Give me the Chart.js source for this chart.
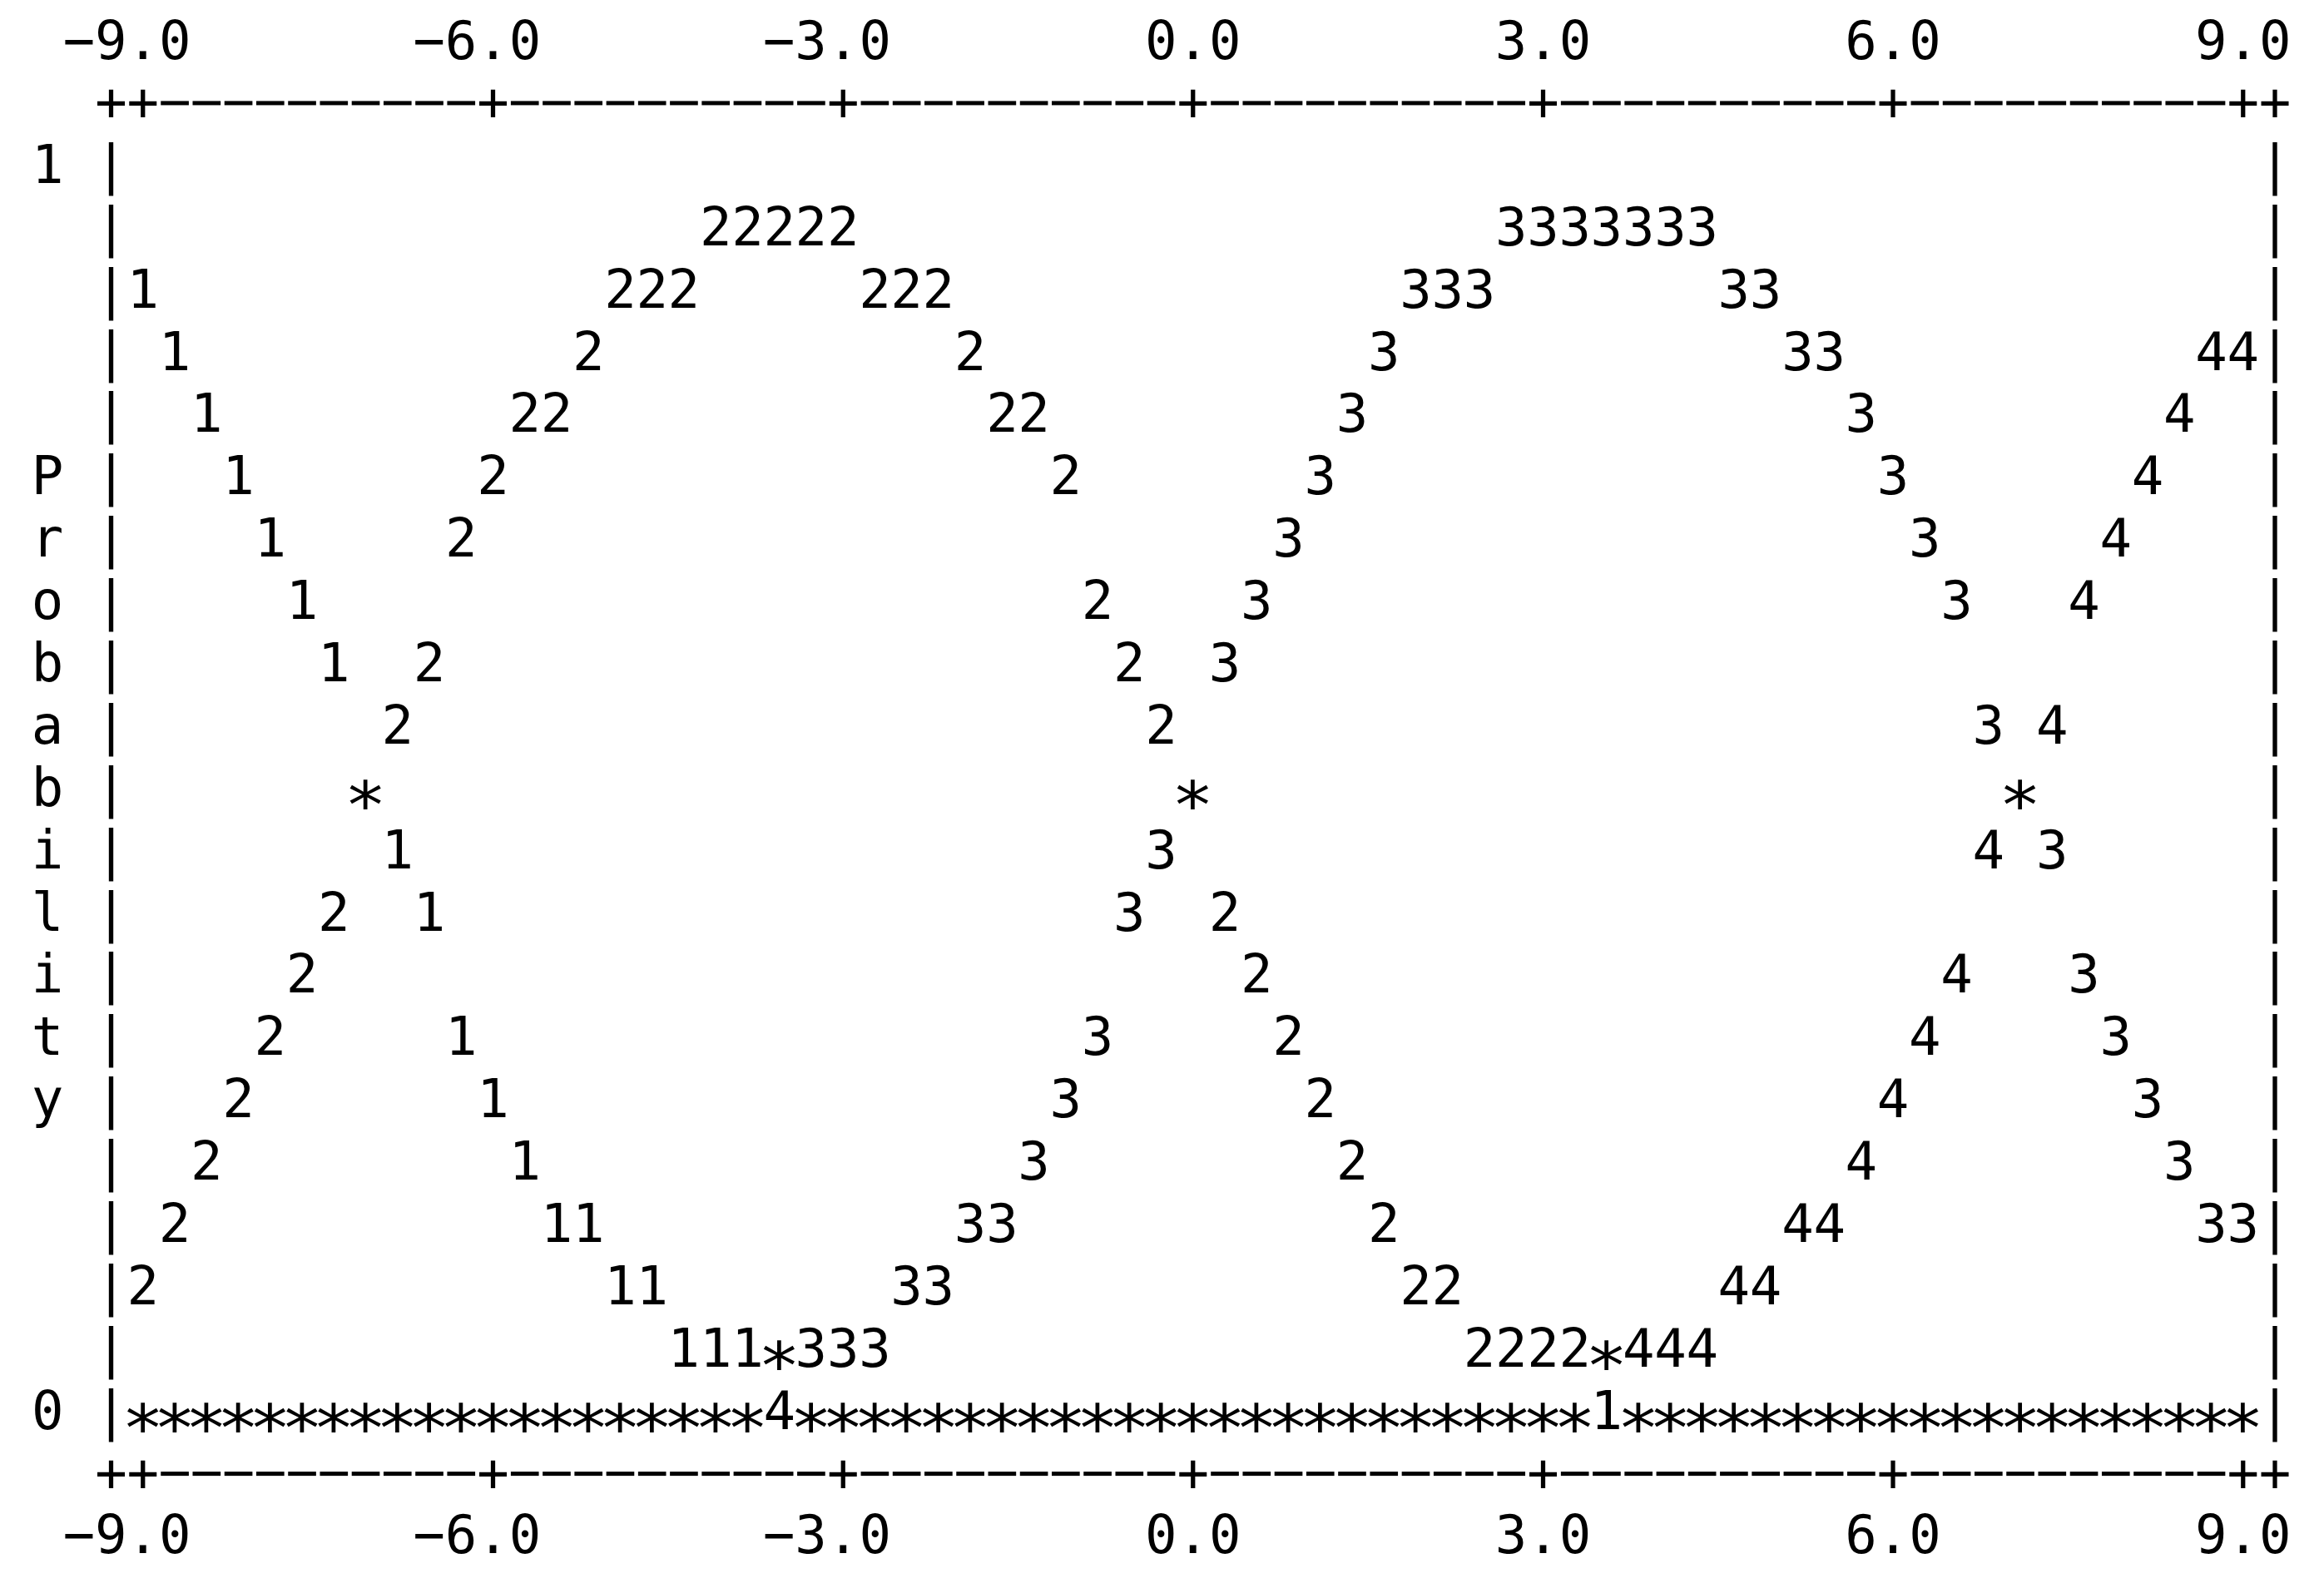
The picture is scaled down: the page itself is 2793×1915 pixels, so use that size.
<!DOCTYPE html>
<html>
<head>
<meta charset="utf-8">
<title>Probability</title>
<script src="https://cdn.jsdelivr.net/npm/chart.js@4.4.1/dist/chart.umd.min.js"></script>
<style>
  html, body { margin: 0; padding: 0; background: #fff; }
  .chart-box { width: 2793px; height: 1915px; }
</style>
</head>
<body>
<div class="chart-box"><canvas id="prob-chart"></canvas></div>
<script>
// sample points, one per text column
const xValues = [
    -9.000, -8.727, -8.455, -8.182, -7.909, -7.636, -7.364, -7.091, -6.818, -6.545, -6.273,
    -6.000, -5.727, -5.455, -5.182, -4.909, -4.636, -4.364, -4.091, -3.818, -3.545, -3.273,
    -3.000, -2.727, -2.455, -2.182, -1.909, -1.636, -1.364, -1.091, -0.818, -0.545, -0.273,
     0.000,  0.273,  0.545,  0.818,  1.091,  1.364,  1.636,  1.909,  2.182,  2.455,  2.727,
     3.000,  3.273,  3.545,  3.818,  4.091,  4.364,  4.636,  4.909,  5.182,  5.455,  5.727,
     6.000,  6.273,  6.545,  6.818,  7.091,  7.364,  7.636,  7.909,  8.182,  8.455,  8.727,
     9.000
];

const prob1 = [
    0.90, 0.85, 0.80, 0.75, 0.70, 0.65, 0.60, 0.50, 0.45, 0.40, 0.30,
    0.25, 0.20, 0.15, 0.15, 0.10, 0.10, 0.05, 0.05, 0.05, 0.05, 0,
    0, 0, 0, 0, 0, 0, 0, 0, 0, 0, 0,
    0, 0, 0, 0, 0, 0, 0, 0, 0, 0, 0,
    0, 0, 0, 0, 0, 0, 0, 0, 0, 0, 0,
    0, 0, 0, 0, 0, 0, 0, 0, 0, 0, 0,
    0
];

const prob2 = [
    0.10, 0.15, 0.20, 0.25, 0.30, 0.35, 0.40, 0.50, 0.55, 0.60, 0.70,
    0.75, 0.80, 0.80, 0.85, 0.90, 0.90, 0.90, 0.95, 0.95, 0.95, 0.95,
    0.95, 0.90, 0.90, 0.90, 0.85, 0.80, 0.80, 0.75, 0.65, 0.60, 0.55,
    0.50, 0.40, 0.35, 0.30, 0.25, 0.20, 0.15, 0.10, 0.10, 0.05, 0.05,
    0.05, 0.05, 0.05, 0, 0, 0, 0, 0, 0, 0, 0,
    0, 0, 0, 0, 0, 0, 0, 0, 0, 0, 0,
    0
];

const prob3 = [
    0, 0, 0, 0, 0, 0, 0, 0, 0, 0, 0,
    0, 0, 0, 0, 0, 0, 0, 0, 0, 0.05, 0.05,
    0.05, 0.05, 0.10, 0.10, 0.15, 0.15, 0.20, 0.25, 0.30, 0.40, 0.45,
    0.50, 0.60, 0.65, 0.70, 0.75, 0.80, 0.85, 0.90, 0.90, 0.90, 0.95,
    0.95, 0.95, 0.95, 0.95, 0.95, 0.95, 0.90, 0.90, 0.85, 0.85, 0.80,
    0.75, 0.70, 0.65, 0.55, 0.50, 0.45, 0.35, 0.30, 0.25, 0.20, 0.15,
    0.15
];

const prob4 = [
    0, 0, 0, 0, 0, 0, 0, 0, 0, 0, 0,
    0, 0, 0, 0, 0, 0, 0, 0, 0, 0, 0,
    0, 0, 0, 0, 0, 0, 0, 0, 0, 0, 0,
    0, 0, 0, 0, 0, 0, 0, 0, 0, 0, 0,
    0, 0, 0.05, 0.05, 0.05, 0.05, 0.10, 0.10, 0.15, 0.15, 0.20,
    0.25, 0.30, 0.35, 0.45, 0.50, 0.55, 0.65, 0.70, 0.75, 0.80, 0.85,
    0.85
];

const seriesMarks = ['1', '2', '3', '4'];
const xTickValues = [-9, -6, -3, 0, 3, 6, 9];
const yTickValues = [0, 1];
const yTitle = 'Probability';

const FONT_FAMILY = "'DejaVu Sans Mono', monospace";
const FONT_SIZE = 64;
const monoFont = { family: FONT_FAMILY, size: FONT_SIZE, lineHeight: 1.2 };

// one column / one row of margin round the data, like the text terminal
const xStep = (xValues[xValues.length - 1] - xValues[0]) / (xValues.length - 1);
const yStep = 0.05;

// labels are centred on whole characters, so even-length ones get a trailing space
function xTickText(value) {
    const s = Number(value).toFixed(1).replace('-', '\u2212');
    return s.length % 2 === 0 ? s + ' ' : s;
}

// the terminal's '*' is wide and sits a bit low, so stretch the glyph to fit the cell
function drawStar(ctx, cx, cy, cw) {
    const m = ctx.measureText('*');
    const w = m.actualBoundingBoxLeft + m.actualBoundingBoxRight;
    const h = m.actualBoundingBoxAscent + m.actualBoundingBoxDescent;
    const midX = (m.actualBoundingBoxRight - m.actualBoundingBoxLeft) / 2;
    const midY = (m.actualBoundingBoxDescent - m.actualBoundingBoxAscent) / 2;
    ctx.save();
    ctx.translate(cx, cy + 3);
    ctx.scale(cw * 1.0 / w, cw * 0.95 / h);
    ctx.fillText('*', -midX, -midY);
    ctx.restore();
}

// draws the frame and every point as characters, the way a dumb terminal does
const asciiPlot = {
    id: 'asciiPlot',
    afterDatasetsDraw(chart) {
        const { ctx, chartArea: { left, right, top, bottom }, scales: { x, y } } = chart;
        const cw = x.getPixelForValue(xValues[0] + xStep) - x.getPixelForValue(xValues[0]);
        const rh = y.getPixelForValue(0) - y.getPixelForValue(yStep);
        const nCols = Math.round((right - left) / cw);
        const nRows = Math.round((bottom - top) / rh);

        ctx.save();
        ctx.fillStyle = '#000';
        ctx.font = FONT_SIZE + 'px ' + FONT_FAMILY;
        ctx.textAlign = 'center';
        ctx.textBaseline = 'middle';

        // top and bottom border
        const tickCols = xTickValues.map(v => Math.round((x.getPixelForValue(v) - left) / cw));
        const plus = ctx.measureText('+');
        const plusMid = (plus.actualBoundingBoxDescent - plus.actualBoundingBoxAscent) / 2;
        [top, bottom].forEach(rowY => {
            for (let c = 0; c <= nCols; c++) {
                const cx = left + c * cw;
                if (c === 0 || c === nCols || tickCols.includes(c)) {
                    ctx.fillText('+', cx, rowY);
                } else {
                    ctx.fillRect(cx - cw * 0.44, rowY + plusMid - 2.5, cw * 0.88, 5);
                }
            }
        });

        // side borders
        for (let r = 1; r < nRows; r++) {
            ctx.fillText('|', left, top + r * rh);
            ctx.fillText('|', right, top + r * rh);
        }

        // y title, one letter per row
        const midY = (top + bottom) / 2;
        [...yTitle].forEach((ch, i) => {
            ctx.fillText(ch, left - 2 * cw, midY + (i - (yTitle.length - 1) / 2) * rh);
        });

        // points: a digit per series, '*' where series share a cell
        const cells = new Map();
        chart.data.datasets.forEach((ds, i) => {
            chart.getDatasetMeta(i).data.forEach(pt => {
                const key = Math.round(pt.x) + ':' + Math.round(pt.y);
                const cell = cells.get(key);
                if (cell) {
                    cell.count++;
                } else {
                    cells.set(key, { x: pt.x, y: pt.y, mark: ds.label, count: 1 });
                }
            });
        });
        cells.forEach(cell => {
            if (cell.count > 1) {
                drawStar(ctx, cell.x, cell.y, cw);
            } else {
                ctx.fillText(cell.mark, cell.x, cell.y);
            }
        });

        ctx.restore();
    }
};

function initChart() {
    const ctx = document.getElementById('prob-chart').getContext('2d');
    const seriesValues = [prob1, prob2, prob3, prob4];

    const xAxis = (position, height) => ({
        type: 'linear',
        position: position,
        min: xValues[0] - xStep,
        max: xValues[xValues.length - 1] + xStep,
        afterFit: scale => { scale.height = height; },
        afterBuildTicks: scale => { scale.ticks = xTickValues.map(v => ({ value: v })); },
        grid: { display: false, drawTicks: false },
        border: { display: false },
        ticks: {
            font: monoFont,
            color: '#000',
            padding: 36,
            maxRotation: 0,
            autoSkip: false,
            callback: xTickText,
        },
    });

    new Chart(ctx, {
        type: 'scatter',
        data: {
            datasets: seriesValues.map((vals, i) => ({
                label: seriesMarks[i],
                data: xValues.map((xv, j) => ({ x: xv, y: vals[j] })),
                showLine: false,
                pointRadius: 0,
                pointHoverRadius: 0,
            })),
        },
        options: {
            responsive: true,
            maintainAspectRatio: false,
            animation: false,
            events: [],
            layout: { padding: { left: 0, top: 0, right: 59, bottom: 0 } },
            plugins: {
                legend: { display: false },
                tooltip: { enabled: false },
            },
            scales: {
                x: xAxis('bottom', 139),
                x2: xAxis('top', 128.3),
                y: {
                    type: 'linear',
                    position: 'left',
                    min: 0 - yStep,
                    max: 1 + yStep,
                    afterFit: scale => { scale.width = 133.6; },
                    afterBuildTicks: scale => { scale.ticks = yTickValues.map(v => ({ value: v })); },
                    grid: { display: false, drawTicks: false },
                    border: { display: false },
                    ticks: {
                        font: monoFont,
                        color: '#000',
                        padding: 57,
                        callback: v => String(v),
                    },
                },
            },
        },
        plugins: [asciiPlot],
    });
}

document.addEventListener('DOMContentLoaded', initChart);
</script>
</body>
</html>
